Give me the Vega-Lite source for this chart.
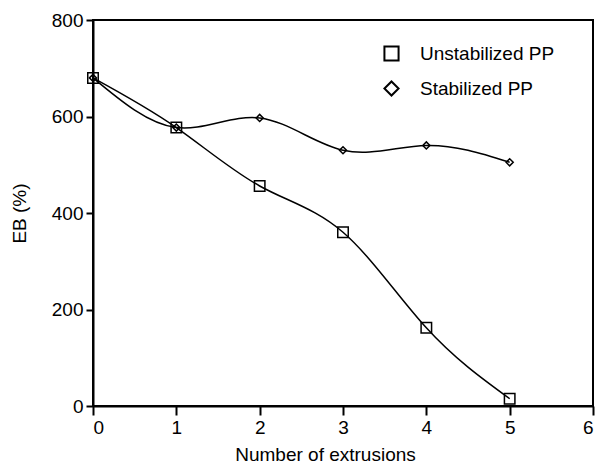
{
  "$schema": "https://vega.github.io/schema/vega-lite/v6.json",
  "width": 500,
  "height": 386,
  "autosize": {"type": "none"},
  "padding": {"left": 93, "top": 20, "right": 5, "bottom": 64},
  "background": "white",
  "config": {
    "view": {"stroke": "black", "strokeWidth": 2},
    "font": "Liberation Sans",
    "axis": {
      "domainColor": "black", "domainWidth": 2, "tickColor": "black", "tickWidth": 2,
      "labelColor": "black", "labelFontSize": 19, "titleColor": "black", "titleFontSize": 19,
      "titleFontWeight": "normal", "grid": false, "labelFont": "Liberation Sans", "titleFont": "Liberation Sans"
    }
  },
  "data": {
    "values": [
      {"x": 0, "eb": 680, "series": "Unstabilized PP"},
      {"x": 1, "eb": 577, "series": "Unstabilized PP"},
      {"x": 2, "eb": 456, "series": "Unstabilized PP"},
      {"x": 3, "eb": 360, "series": "Unstabilized PP"},
      {"x": 4, "eb": 162, "series": "Unstabilized PP"},
      {"x": 5, "eb": 15, "series": "Unstabilized PP"},
      {"x": 0, "eb": 680, "series": "Stabilized PP"},
      {"x": 1, "eb": 577, "series": "Stabilized PP"},
      {"x": 2, "eb": 597, "series": "Stabilized PP"},
      {"x": 3, "eb": 530, "series": "Stabilized PP"},
      {"x": 4, "eb": 540, "series": "Stabilized PP"},
      {"x": 5, "eb": 505, "series": "Stabilized PP"}
    ]
  },
  "encoding": {
    "x": {"field": "x", "type": "quantitative", "scale": {"domain": [0, 6], "nice": false},
      "axis": {"title": "Number of extrusions", "values": [0,1,2,3,4,5,6], "tickSize": 9, "labelPadding": 3, "titleX": 232, "titlePadding": 8}},
    "y": {"field": "eb", "type": "quantitative", "scale": {"domain": [0, 800], "nice": false},
      "axis": {"title": "EB (%)", "values": [0,200,400,600,800], "tickSize": 7, "labelPadding": 3, "titlePadding": 22}}
  },
  "layer": [
    {
      "mark": {"type": "line", "interpolate": "natural", "color": "black", "strokeWidth": 1.5},
      "encoding": {"detail": {"field": "series"}}
    },
    {
      "transform": [{"filter": "datum.series === 'Stabilized PP'"}],
      "mark": {"type": "point", "filled": false, "color": "black", "strokeWidth": 1.5, "opacity": 1, "size": 50},
      "encoding": {
        "shape": {"field": "series", "type": "nominal",
          "scale": {"domain": ["Unstabilized PP", "Stabilized PP"], "range": ["square", "diamond"]},
          "legend": {"title": null, "orient": "none", "legendX": 289, "legendY": 24, "labelFontSize": 19,
            "labelColor": "black", "labelFont": "Liberation Sans", "symbolSize": 200, "symbolStrokeColor": "black",
            "symbolFillColor": "transparent", "symbolStrokeWidth": 2, "rowPadding": 12, "labelOffset": 19}}
      }
    },
    {
      "transform": [{"filter": "datum.series === 'Unstabilized PP'"}],
      "mark": {"type": "point", "filled": false, "color": "black", "strokeWidth": 1.5, "opacity": 1, "size": 110},
      "encoding": {
        "shape": {"field": "series", "type": "nominal",
          "scale": {"domain": ["Unstabilized PP", "Stabilized PP"], "range": ["square", "diamond"]}}
      }
    }
  ]
}
